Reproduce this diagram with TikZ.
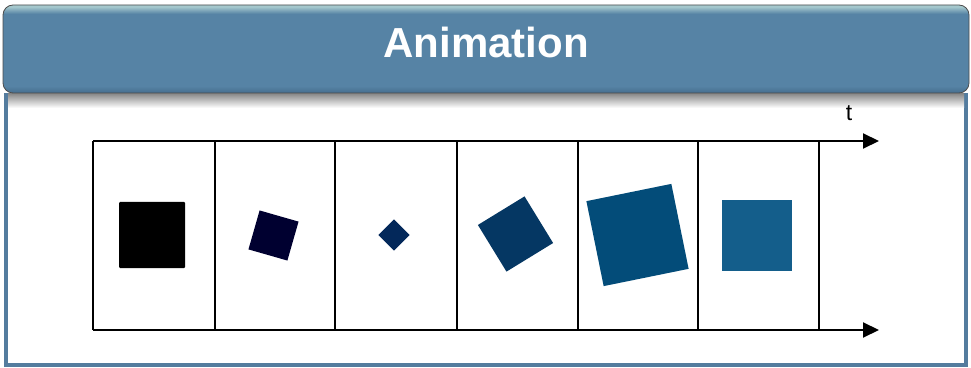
\documentclass[tikz,border=0pt]{standalone}
\usepackage{fontspec}
\setmainfont{Liberation Sans}
\usetikzlibrary{positioning,arrows.meta,calc}

\definecolor{hdrmain}{RGB}{86,131,165}
\definecolor{hdrdark}{RGB}{70,110,142}
\definecolor{hdrlight}{RGB}{165,200,205}
\definecolor{framecol}{RGB}{84,124,158}
\definecolor{sqA}{RGB}{0,0,0}
\definecolor{sqB}{RGB}{0,0,48}
\definecolor{sqC}{RGB}{3,40,90}
\definecolor{sqD}{RGB}{5,55,99}
\definecolor{sqE}{RGB}{3,76,121}
\definecolor{sqF}{RGB}{20,94,139}

\pgfdeclareverticalshading{hdrshade}{100bp}{color(0bp)=(hdrdark); color(25bp)=(hdrdark); color(29bp)=(hdrmain); color(70bp)=(hdrmain); color(74bp)=(hdrlight); color(100bp)=(hdrlight)}

\begin{document}
\begin{tikzpicture}[x=1pt, y=1pt,
    frame/.style={draw=framecol, line width=4pt},
    header/.style={shade, shading=hdrshade, draw=black!70, line width=0.8pt, rounded corners=10pt, minimum width=966pt, minimum height=88pt, inner sep=0pt},
    title/.style={text=white, font=\fontsize{42}{48}\selectfont\bfseries},
    arr/.style={-{Triangle[length=16pt, width=15pt]}, line width=2pt},
    cellline/.style={line width=2pt},
    sq/.style={inner sep=0pt, outer sep=0pt, draw=none}
]
    \useasboundingbox (0,0) rectangle (971,367);

    % Frame
    \draw[frame] (6,274) -- (6,2) -- (966,2) -- (966,274);
    \shade[top color=black!45, bottom color=white] (8,273) rectangle (964,259);

    % Header
    \node[header] (hdr) at (486,318) {};
    \node[title] (ttl) at (486,325) {Animation};

    % Time axis
    \coordinate (ta) at (93,226);
    \coordinate (tb) at (879,226);
    \coordinate (ba) at (93,37);
    \coordinate (bb) at (879,37);
    \foreach \x [count=\i] in {93,215,335,457,578,698,819} {
        \coordinate (u\i) at (\x,226);
        \coordinate (d\i) at (\x,37);
        \draw[cellline] (u\i) -- (d\i);
    }
    \draw[arr] (ta) -- (tb);
    \draw[arr] (ba) -- (bb);
    \node[font=\fontsize{23}{27}\selectfont] (tlab) at (849,254) {t};

    % Frames of the animation
    \node[sq, fill=sqA, minimum size=66pt, rounded corners=1pt] (s1) at (152,132) {};
    \node[sq, fill=sqB, minimum size=40.5pt, rotate=-16] (s2) at (273.5,131.5) {};
    \node[sq, fill=sqC, minimum size=22pt, rotate=45] (s3) at (394,132) {};
    \node[sq, fill=sqD, minimum size=54.7pt, rotate=31.5] (s4) at (515.5,133) {};
    \node[sq, fill=sqE, minimum size=86.7pt, rotate=11.5] (s5) at (637.5,132) {};
    \node[sq, fill=sqF, minimum size=70pt] (s6) at (757,131.5) {};

\end{tikzpicture}
\end{document}
